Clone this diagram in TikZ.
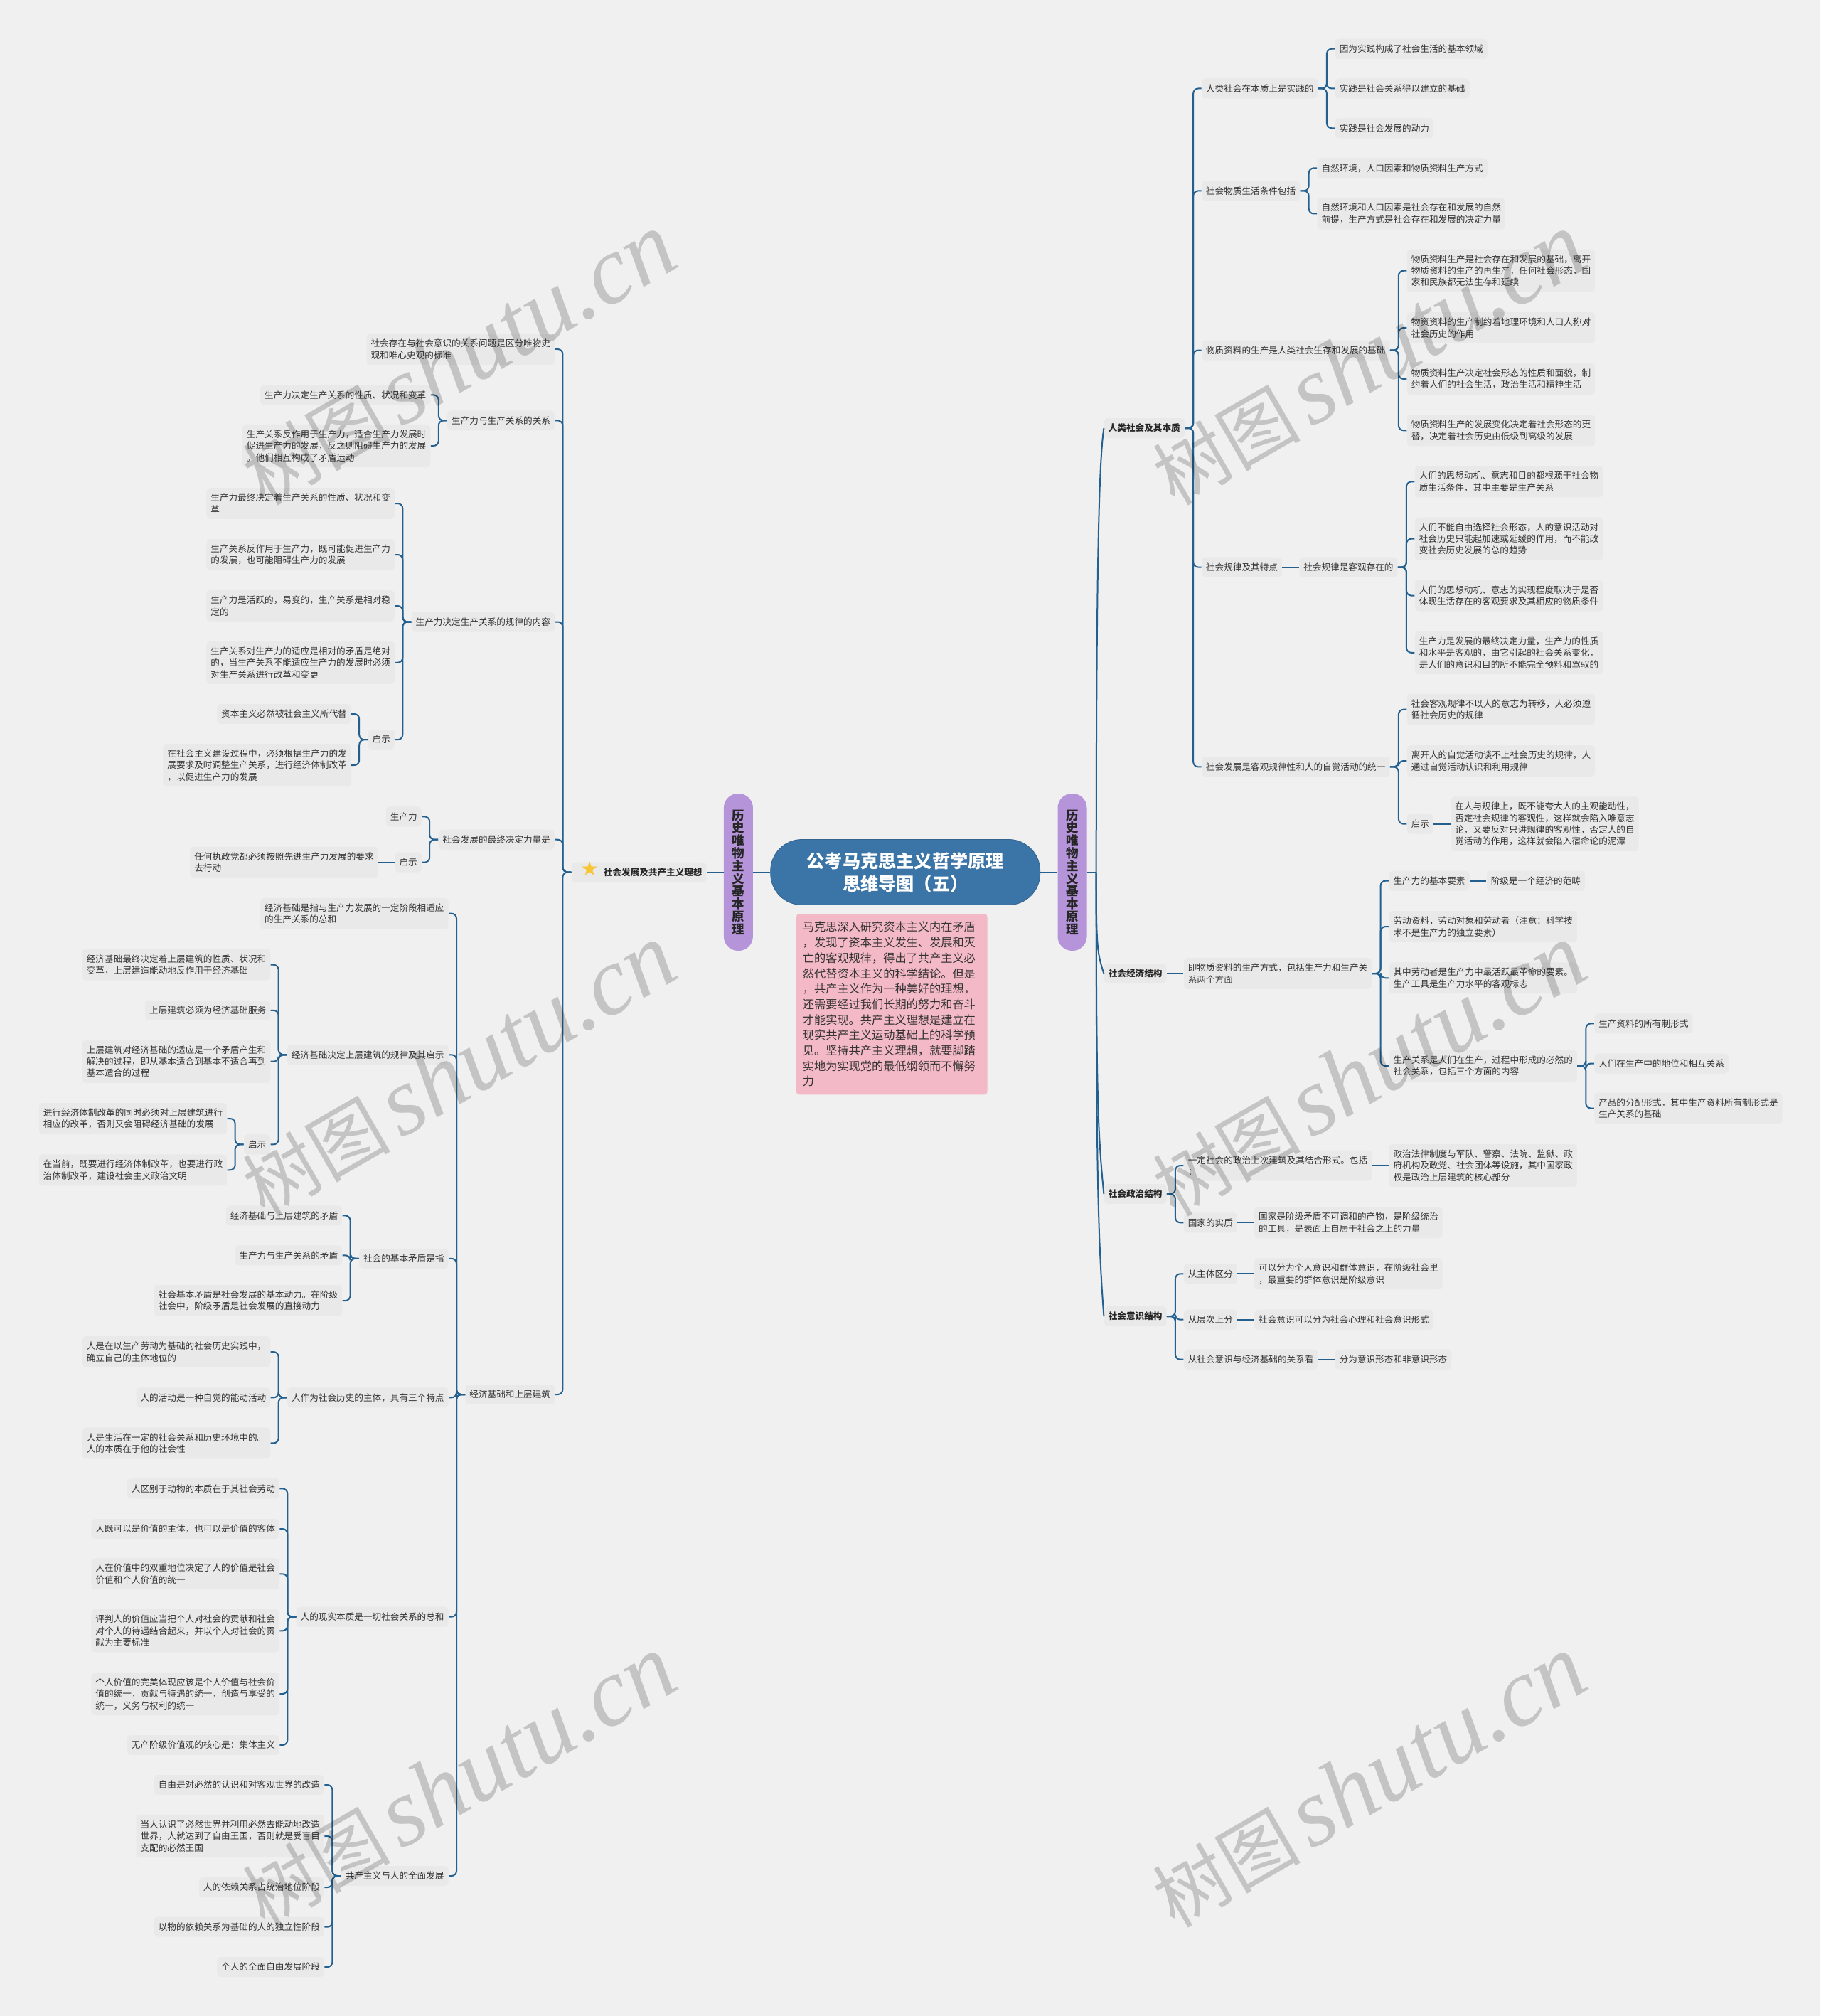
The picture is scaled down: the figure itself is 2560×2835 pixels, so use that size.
\documentclass[tikz,border=0pt]{standalone}
\usepackage{fontspec}
\setmainfont{Noto Sans CJK SC}
\newfontfamily\symbfont{DejaVu Sans}
\newfontfamily\markfont{Liberation Serif}
\usepackage{xcolor}
\usetikzlibrary{positioning, calc}
\definecolor{bgc}{HTML}{F0F0F0}
\definecolor{boxc}{HTML}{E9E9E9}
\definecolor{textc}{HTML}{333333}
\definecolor{linkc}{HTML}{24608F}
\definecolor{rootc}{HTML}{3B74A7}
\definecolor{ribc}{HTML}{B594D9}
\definecolor{pinkc}{HTML}{F4B9C6}
\definecolor{starc}{HTML}{F7C531}
\newcommand{\marktext}{{\fontsize{52}{52}\selectfont 树图}\hspace{7pt}{\fontsize{68}{68}\selectfont\markfont\itshape shutu.cn}}

\begin{document}
\begin{tikzpicture}[x=0.5pt, y=-0.5pt, node distance=11.75pt,
    dy/.style={yshift=#1*-0.5pt},
    leaf/.style={rectangle, fill=boxc, text=textc, rounded corners=2.5pt, align=left, inner xsep=3pt, inner ysep=3.9pt, minimum height=14pt, font=\fontsize{6.31}{8.2}\selectfont},
    topic/.style={leaf, font=\fontsize{6.31}{8.2}\selectfont\bfseries, text=black!85},
    rootbox/.style={rectangle, fill=rootc, draw=rootc!85!black, line width=0.4pt, text=white, rounded corners=22pt, align=center, minimum width=189.5pt, minimum height=46pt, font=\fontsize{12.6}{16}\selectfont\bfseries},
    rib/.style={rectangle, fill=ribc, text=black!85, rounded corners=10pt, align=center, inner sep=0pt, minimum width=20.5pt, minimum height=110.5pt, font=\fontsize{8.75}{8.9}\selectfont\bfseries},
    note/.style={rectangle, fill=pinkc, text=textc, rounded corners=2pt, align=left, text width=125.3pt, inner xsep=4.5pt, inner ysep=4pt, minimum height=127pt, font=\fontsize{8.1}{10.85}\selectfont},
    wmark/.style={rotate=30, text=black, opacity=0.18, inner sep=0pt},
    plain/.style={draw=linkc, line width=1pt},
    linkr/.style={plain, rounded corners=3.5pt, to path={(\tikztostart.east) -- ++(6pt,0) |- (\tikztotarget.west)}},
    linkl/.style={plain, rounded corners=3.5pt, to path={(\tikztostart.west) -- ++(-6pt,0) |- (\tikztotarget.east)}}]

    \useasboundingbox (0,0) rectangle (2560,2835);
    \fill [bgc] (0,0) rectangle (2560,2835);

    % centre
    \node [rootbox] (root) at (1273.2,1226.5) {公考马克思主义哲学原理\\思维导图（五）};
    \node [rib, right=12pt of root] (rib_r) {历\\史\\唯\\物\\主\\义\\基\\本\\原\\理};
    \node [rib, left=12pt of root] (rib_l) {历\\史\\唯\\物\\主\\义\\基\\本\\原\\理};
    \node [note, below=6pt of root, xshift=-9.5pt] (intro) {马克思深入研究资本主义内在矛盾\\，发现了资本主义发生、发展和灭\\亡的客观规律，得出了共产主义必\\然代替资本主义的科学结论。但是\\，共产主义作为一种美好的理想，\\还需要经过我们长期的努力和奋斗\\才能实现。共产主义理想是建立在\\现实共产主义运动基础上的科学预\\见。坚持共产主义理想，就要脚踏\\实地为实现党的最低纲领而不懈努\\力};

    % right side
    \node [topic, right=of rib_r, dy=-624.5] (soc) {人类社会及其本质};
    \node [topic, right=of rib_r, dy=142.5] (eco) {社会经济结构};
    \node [topic, right=of rib_r, dy=452.5] (pol) {社会政治结构};
    \node [topic, right=of rib_r, dy=624.5] (con) {社会意识结构};

    \node [leaf, right=of soc, dy=-477.5] (soc_prac) {人类社会在本质上是实践的};
    \node [leaf, right=of soc_prac, dy=-55.8] (soc_prac1) {因为实践构成了社会生活的基本领域};
    \node [leaf, right=of soc_prac] (soc_prac2) {实践是社会关系得以建立的基础};
    \node [leaf, right=of soc_prac, dy=55.8] (soc_prac3) {实践是社会发展的动力};

    \node [leaf, right=of soc, dy=-333.6] (soc_mat) {社会物质生活条件包括};
    \node [leaf, right=of soc_mat, dy=-32] (soc_mat1) {自然环境，人口因素和物质资料生产方式};
    \node [leaf, right=of soc_mat, dy=32.1] (soc_mat2) {自然环境和人口因素是社会存在和发展的自然\\前提，生产方式是社会存在和发展的决定力量};

    \node [leaf, right=of soc, dy=-109.4] (soc_prod) {物质资料的生产是人类社会生存和发展的基础};
    \node [leaf, right=of soc_prod, dy=-111.9] (soc_prod1) {物质资料生产是社会存在和发展的基础，离开\\物质资料的生产的再生产，任何社会形态，国\\家和民族都无法生存和延续};
    \node [leaf, right=of soc_prod, dy=-31.6] (soc_prod2) {物资资料的生产制约着地理环境和人口人称对\\社会历史的作用};
    \node [leaf, right=of soc_prod, dy=40.4] (soc_prod3) {物质资料生产决定社会形态的性质和面貌，制\\约着人们的社会生活，政治生活和精神生活};
    \node [leaf, right=of soc_prod, dy=112.7] (soc_prod4) {物质资料生产的发展变化决定着社会形态的更\\替，决定着社会历史由低级到高级的发展};

    \node [leaf, right=of soc, dy=195.6] (soc_law) {社会规律及其特点};
    \node [leaf, right=of soc_law] (soc_obj) {社会规律是客观存在的};
    \node [leaf, right=of soc_obj, dy=-120.2] (soc_obj1) {人们的思想动机、意志和目的都根源于社会物\\质生活条件，其中主要是生产关系};
    \node [leaf, right=of soc_obj, dy=-39.9] (soc_obj2) {人们不能自由选择社会形态，人的意识活动对\\社会历史只能起加速或延缓的作用，而不能改\\变社会历史发展的总的趋势};
    \node [leaf, right=of soc_obj, dy=40] (soc_obj3) {人们的思想动机、意志的实现程度取决于是否\\体现生活存在的客观要求及其相应的物质条件};
    \node [leaf, right=of soc_obj, dy=120.3] (soc_obj4) {生产力是发展的最终决定力量，生产力的性质\\和水平是客观的，由它引起的社会关系变化，\\是人们的意识和目的所不能完全预料和驾驭的};

    \node [leaf, right=of soc, dy=476.4] (soc_unity) {社会发展是客观规律性和人的自觉活动的统一};
    \node [leaf, right=of soc_unity, dy=-80.7] (soc_unity1) {社会客观规律不以人的意志为转移，人必须遵\\循社会历史的规律};
    \node [leaf, right=of soc_unity, dy=-8.4] (soc_unity2) {离开人的自觉活动谈不上社会历史的规律，人\\通过自觉活动认识和利用规律};
    \node [leaf, right=of soc_unity, dy=80.3] (soc_hint) {启示};
    \node [leaf, right=of soc_hint] (soc_hint1) {在人与规律上，既不能夸大人的主观能动性，\\否定社会规律的客观性，这样就会陷入唯意志\\论，又要反对只讲规律的客观性，否定人的自\\觉活动的作用，这样就会陷入宿命论的泥潭};

    \node [leaf, right=of eco] (eco_mode) {即物质资料的生产方式，包括生产力和生产关\\系两个方面};
    \node [leaf, right=of eco_mode, dy=-130.4] (eco_force) {生产力的基本要素};
    \node [leaf, right=of eco_force] (eco_force1) {阶级是一个经济的范畴};
    \node [leaf, right=of eco_mode, dy=-66] (eco_tool) {劳动资料，劳动对象和劳动者（注意：科学技\\术不是生产力的独立要素）};
    \node [leaf, right=of eco_mode, dy=6.3] (eco_work) {其中劳动者是生产力中最活跃最革命的要素。\\生产工具是生产力水平的客观标志};
    \node [leaf, right=of eco_mode, dy=130] (eco_rel) {生产关系是人们在生产，过程中形成的必然的\\社会关系，包括三个方面的内容};
    \node [leaf, right=of eco_rel, dy=-59.7] (eco_rel1) {生产资料的所有制形式};
    \node [leaf, right=of eco_rel, dy=-3.5] (eco_rel2) {人们在生产中的地位和相互关系};
    \node [leaf, right=of eco_rel, dy=59.5] (eco_rel3) {产品的分配形式，其中生产资料所有制形式是\\生产关系的基础};

    \node [leaf, right=of pol, dy=-40] (pol_sup) {一定社会的政治上次建筑及其结合形式。包括\\：};
    \node [leaf, right=of pol_sup] (pol_sup1) {政治法律制度与军队、警察、法院、监狱、政\\府机构及政党、社会团体等设施，其中国家政\\权是政治上层建筑的核心部分};
    \node [leaf, right=of pol, dy=40.3] (pol_state) {国家的实质};
    \node [leaf, right=of pol_state] (pol_state1) {国家是阶级矛盾不可调和的产物，是阶级统治\\的工具，是表面上自居于社会之上的力量};

    \node [leaf, right=of con, dy=-59.7] (con_sub) {从主体区分};
    \node [leaf, right=of con_sub] (con_sub1) {可以分为个人意识和群体意识，在阶级社会里\\，最重要的群体意识是阶级意识};
    \node [leaf, right=of con, dy=4.7] (con_lev) {从层次上分};
    \node [leaf, right=of con_lev] (con_lev1) {社会意识可以分为社会心理和社会意识形式};
    \node [leaf, right=of con, dy=60.7] (con_eco) {从社会意识与经济基础的关系看};
    \node [leaf, right=of con_eco] (con_eco1) {分为意识形态和非意识形态};

    % left side
    \node [topic, left=of rib_l] (dev) {\makebox[19.5pt]{\smash{\symbfont\fontsize{14}{14}\selectfont\textcolor{starc}{★}}}社会发展及共产主义理想};

    \begin{scope}[node distance=11.5pt]
    \node [leaf, left=of dev, dy=-735.5] (dev_std) {社会存在与社会意识的关系问题是区分唯物史\\观和唯心史观的标准};

    \node [leaf, left=of dev, dy=-635.1] (dev_rel) {生产力与生产关系的关系};
    \node [leaf, left=of dev_rel, dy=-36] (dev_rel1) {生产力决定生产关系的性质、状况和变革};
    \node [leaf, left=of dev_rel, dy=35.6] (dev_rel2) {生产关系反作用于生产力，适合生产力发展时\\促进生产力的发展，反之则阻碍生产力的发展\\。他们相互构成了矛盾运动};

    \node [leaf, left=of dev, dy=-352] (dev_law) {生产力决定生产关系的规律的内容};
    \node [leaf, left=of dev_law, dy=-166.5] (dev_law1) {生产力最终决定着生产关系的性质、状况和变\\革};
    \node [leaf, left=of dev_law, dy=-94.5] (dev_law2) {生产关系反作用于生产力，既可能促进生产力\\的发展，也可能阻碍生产力的发展};
    \node [leaf, left=of dev_law, dy=-22.5] (dev_law3) {生产力是活跃的，易变的，生产关系是相对稳\\定的};
    \node [leaf, left=of dev_law, dy=57.3] (dev_law4) {生产关系对生产力的适应是相对的矛盾是绝对\\的，当生产关系不能适应生产力的发展时必须\\对生产关系进行改革和变更};
    \node [leaf, left=of dev_law, dy=165.7] (dev_hint) {启示};
    \node [leaf, left=of dev_hint, dy=-36.2] (dev_hint1) {资本主义必然被社会主义所代替};
    \node [leaf, left=of dev_hint, dy=35.8] (dev_hint2) {在社会主义建设过程中，必须根据生产力的发\\展要求及时调整生产关系，进行经济体制改革\\，以促进生产力的发展};

    \node [leaf, left=of dev, dy=-45.8] (dev_force) {社会发展的最终决定力量是};
    \node [leaf, left=of dev_force, dy=-32.4] (dev_force1) {生产力};
    \node [leaf, left=of dev_force, dy=32] (dev_force2) {启示};
    \node [leaf, left=of dev_force2] (dev_force3) {任何执政党都必须按照先进生产力发展的要求\\去行动};

    \node [leaf, left=of dev, dy=734.5] (dev_base) {经济基础和上层建筑};
    \node [leaf, left=of dev_base, dy=-676.3] (base_def) {经济基础是指与生产力发展的一定阶段相适应\\的生产关系的总和};

    \node [leaf, left=of dev_base, dy=-477.7] (base_rule) {经济基础决定上层建筑的规律及其启示};
    \node [leaf, left=of base_rule, dy=-126.6] (base_rule1) {经济基础最终决定着上层建筑的性质、状况和\\变革，上层建造能动地反作用于经济基础};
    \node [leaf, left=of base_rule, dy=-62.5] (base_rule2) {上层建筑必须为经济基础服务};
    \node [leaf, left=of base_rule, dy=9.4] (base_rule3) {上层建筑对经济基础的适应是一个矛盾产生和\\解决的过程，即从基本适合到基本不适合再到\\基本适合的过程};
    \node [leaf, left=of base_rule, dy=126.1] (base_hint) {启示};
    \node [leaf, left=of base_hint, dy=-36.4] (base_hint1) {进行经济体制改革的同时必须对上层建筑进行\\相应的改革，否则又会阻碍经济基础的发展};
    \node [leaf, left=of base_hint, dy=35.9] (base_hint2) {在当前，既要进行经济体制改革，也要进行政\\治体制改革，建设社会主义政治文明};

    \node [leaf, left=of dev_base, dy=-191.2] (base_con) {社会的基本矛盾是指};
    \node [leaf, left=of base_con, dy=-60.4] (base_con1) {经济基础与上层建筑的矛盾};
    \node [leaf, left=of base_con, dy=-4.5] (base_con2) {生产力与生产关系的矛盾};
    \node [leaf, left=of base_con, dy=59.2] (base_con3) {社会基本矛盾是社会发展的基本动力。在阶级\\社会中，阶级矛盾是社会发展的直接动力};

    \node [leaf, left=of dev_base, dy=4.4] (base_man) {人作为社会历史的主体，具有三个特点};
    \node [leaf, left=of base_man, dy=-64.4] (base_man1) {人是在以生产劳动为基础的社会历史实践中，\\确立自己的主体地位的};
    \node [leaf, left=of base_man] (base_man2) {人的活动是一种自觉的能动活动};
    \node [leaf, left=of base_man, dy=64] (base_man3) {人是生活在一定的社会关系和历史环境中的。\\人的本质在于他的社会性};

    \node [leaf, left=of dev_base, dy=312.7] (base_ess) {人的现实本质是一切社会关系的总和};
    \node [leaf, left=of base_ess, dy=-180.4] (base_ess1) {人区别于动物的本质在于其社会劳动};
    \node [leaf, left=of base_ess, dy=-123.7] (base_ess2) {人既可以是价值的主体，也可以是价值的客体};
    \node [leaf, left=of base_ess, dy=-60.4] (base_ess3) {人在价值中的双重地位决定了人的价值是社会\\价值和个人价值的统一};
    \node [leaf, left=of base_ess, dy=19.6] (base_ess4) {评判人的价值应当把个人对社会的贡献和社会\\对个人的待遇结合起来，并以个人对社会的贡\\献为主要标准};
    \node [leaf, left=of base_ess, dy=108.3] (base_ess5) {个人价值的完美体现应该是个人价值与社会价\\值的统一，贡献与待遇的统一，创造与享受的\\统一，义务与权利的统一};
    \node [leaf, left=of base_ess, dy=180.3] (base_ess6) {无产阶级价值观的核心是：集体主义};

    \node [leaf, left=of dev_base, dy=677] (base_com) {共产主义与人的全面发展};
    \node [leaf, left=of base_com, dy=-128] (base_com1) {自由是对必然的认识和对客观世界的改造};
    \node [leaf, left=of base_com, dy=-56] (base_com2) {当人认识了必然世界并利用必然去能动地改造\\世界，人就达到了自由王国，否则就是受盲目\\支配的必然王国};
    \node [leaf, left=of base_com, dy=16] (base_com3) {人的依赖关系占统治地位阶段};
    \node [leaf, left=of base_com, dy=71.7] (base_com4) {以物的依赖关系为基础的人的独立性阶段};
    \node [leaf, left=of base_com, dy=128] (base_com5) {个人的全面自由发展阶段};
    \end{scope}

    % connectors
    \path [plain] (root) -- (rib_r);
    \path [plain] (root) -- (rib_l);
    \path [plain] (rib_l) -- (dev);
    \coordinate [right=6.4pt of rib_r] (trunk);
    \path [plain] (rib_r) -- (trunk);
    \path [plain] (trunk) .. controls +(0,-426) and +(-7,48) .. (soc.west);
    \path [plain] (trunk) .. controls +(0,100) and +(-10,-30) .. (eco.west);
    \path [plain] (trunk) .. controls +(0,300) and +(-9,-90) .. (pol.west);
    \path [plain] (trunk) .. controls +(0,400) and +(-9,-120) .. (con.west);

    \path [linkr] (soc) to (soc_prac);
    \path [linkr] (soc) to (soc_mat);
    \path [linkr] (soc) to (soc_prod);
    \path [linkr] (soc) to (soc_law);
    \path [linkr] (soc) to (soc_unity);
    \path [linkr] (soc_prac) to (soc_prac1);
    \path [linkr] (soc_prac) to (soc_prac2);
    \path [linkr] (soc_prac) to (soc_prac3);
    \path [linkr] (soc_mat) to (soc_mat1);
    \path [linkr] (soc_mat) to (soc_mat2);
    \path [linkr] (soc_prod) to (soc_prod1);
    \path [linkr] (soc_prod) to (soc_prod2);
    \path [linkr] (soc_prod) to (soc_prod3);
    \path [linkr] (soc_prod) to (soc_prod4);
    \path [plain] (soc_law) -- (soc_obj);
    \path [linkr] (soc_obj) to (soc_obj1);
    \path [linkr] (soc_obj) to (soc_obj2);
    \path [linkr] (soc_obj) to (soc_obj3);
    \path [linkr] (soc_obj) to (soc_obj4);
    \path [linkr] (soc_unity) to (soc_unity1);
    \path [linkr] (soc_unity) to (soc_unity2);
    \path [linkr] (soc_unity) to (soc_hint);
    \path [plain] (soc_hint) -- (soc_hint1);

    \path [plain] (eco) -- (eco_mode);
    \path [linkr] (eco_mode) to (eco_force);
    \path [linkr] (eco_mode) to (eco_tool);
    \path [linkr] (eco_mode) to (eco_work);
    \path [linkr] (eco_mode) to (eco_rel);
    \path [plain] (eco_force) -- (eco_force1);
    \path [linkr] (eco_rel) to (eco_rel1);
    \path [linkr] (eco_rel) to (eco_rel2);
    \path [linkr] (eco_rel) to (eco_rel3);

    \path [linkr] (pol) to (pol_sup);
    \path [linkr] (pol) to (pol_state);
    \path [plain] (pol_sup) -- (pol_sup1);
    \path [plain] (pol_state) -- (pol_state1);

    \path [linkr] (con) to (con_sub);
    \path [linkr] (con) to (con_lev);
    \path [linkr] (con) to (con_eco);
    \path [plain] (con_sub) -- (con_sub1);
    \path [plain] (con_lev) -- (con_lev1);
    \path [plain] (con_eco) -- (con_eco1);

    \path [linkl] (dev) to (dev_std);
    \path [linkl] (dev) to (dev_rel);
    \path [linkl] (dev) to (dev_law);
    \path [linkl] (dev) to (dev_force);
    \path [linkl] (dev) to (dev_base);
    \path [linkl] (dev_rel) to (dev_rel1);
    \path [linkl] (dev_rel) to (dev_rel2);
    \path [linkl] (dev_law) to (dev_law1);
    \path [linkl] (dev_law) to (dev_law2);
    \path [linkl] (dev_law) to (dev_law3);
    \path [linkl] (dev_law) to (dev_law4);
    \path [linkl] (dev_law) to (dev_hint);
    \path [linkl] (dev_hint) to (dev_hint1);
    \path [linkl] (dev_hint) to (dev_hint2);
    \path [linkl] (dev_force) to (dev_force1);
    \path [linkl] (dev_force) to (dev_force2);
    \path [plain] (dev_force2) -- (dev_force3);

    \path [linkl] (dev_base) to (base_def);
    \path [linkl] (dev_base) to (base_rule);
    \path [linkl] (dev_base) to (base_con);
    \path [linkl] (dev_base) to (base_man);
    \path [linkl] (dev_base) to (base_ess);
    \path [linkl] (dev_base) to (base_com);
    \path [linkl] (base_rule) to (base_rule1);
    \path [linkl] (base_rule) to (base_rule2);
    \path [linkl] (base_rule) to (base_rule3);
    \path [linkl] (base_rule) to (base_hint);
    \path [linkl] (base_hint) to (base_hint1);
    \path [linkl] (base_hint) to (base_hint2);
    \path [linkl] (base_con) to (base_con1);
    \path [linkl] (base_con) to (base_con2);
    \path [linkl] (base_con) to (base_con3);
    \path [linkl] (base_man) to (base_man1);
    \path [linkl] (base_man) to (base_man2);
    \path [linkl] (base_man) to (base_man3);
    \path [linkl] (base_ess) to (base_ess1);
    \path [linkl] (base_ess) to (base_ess2);
    \path [linkl] (base_ess) to (base_ess3);
    \path [linkl] (base_ess) to (base_ess4);
    \path [linkl] (base_ess) to (base_ess5);
    \path [linkl] (base_ess) to (base_ess6);
    \path [linkl] (base_com) to (base_com1);
    \path [linkl] (base_com) to (base_com2);
    \path [linkl] (base_com) to (base_com3);
    \path [linkl] (base_com) to (base_com4);
    \path [linkl] (base_com) to (base_com5);

    % watermark
    \node [wmark] (mark1) at (645,505) {\marktext};
    \node [wmark] (mark2) at (645,1505) {\marktext};
    \node [wmark] (mark3) at (645,2505) {\marktext};
    \node [wmark] (mark4) at (1925,505) {\marktext};
    \node [wmark] (mark5) at (1925,1505) {\marktext};
    \node [wmark] (mark6) at (1925,2505) {\marktext};
\end{tikzpicture}
\end{document}
